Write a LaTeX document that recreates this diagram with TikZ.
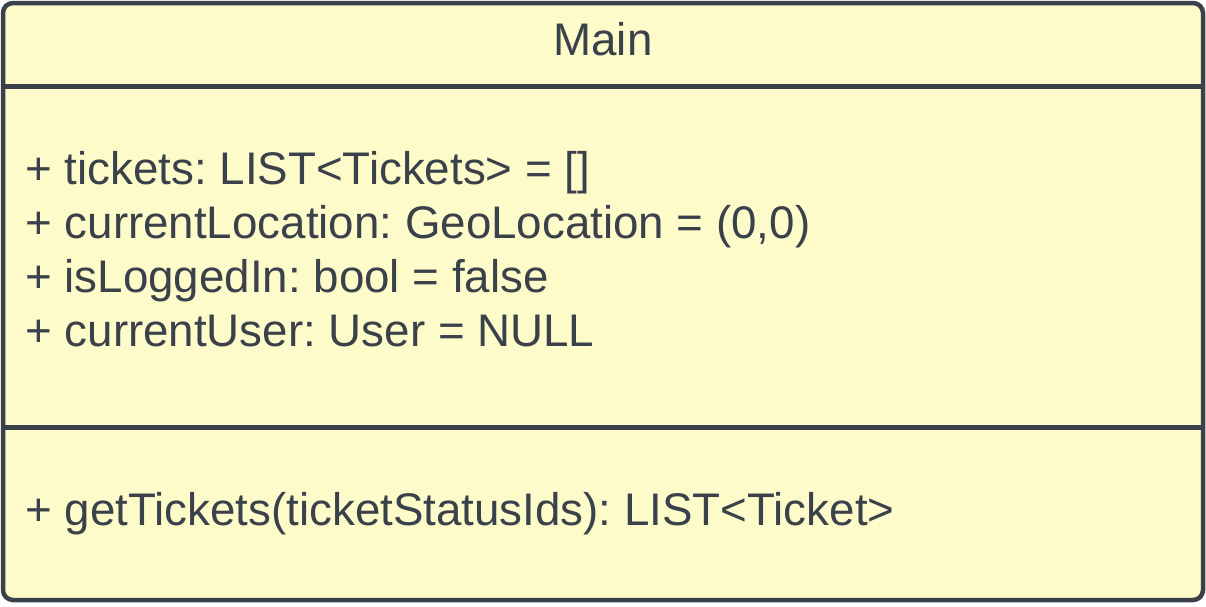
\documentclass[tikz,border=0pt]{standalone}
\usepackage{fontspec}
\setmainfont{Liberation Sans}
\usepackage{tikz}
\frenchspacing

\definecolor{umlline}{HTML}{3A414A}
\definecolor{umlfill}{HTML}{FCFBC9}

\tikzset{
  classbox/.style={draw=umlline, fill=umlfill, line width=2.25pt, rounded corners=5pt},
  member/.style={anchor=base west, inner sep=0pt, text=umlline, font=\fontsize{22.85}{27}\selectfont},
  title/.style={anchor=base, inner sep=0pt, text=umlline, font=\fontsize{22.85}{27}\selectfont}
}

\begin{document}
\begin{tikzpicture}[x=0.5pt, y=-0.5pt]
				\useasboundingbox (0, 0) rectangle (1206, 606);
				% Class box and compartments:
				\draw[classbox] (3, 3) rectangle (1203, 600);
				\coordinate (H1) at (3, 86.5);
				\coordinate (H2) at (1203, 86.5);
				\coordinate (M1) at (3, 427);
				\coordinate (M2) at (1203, 427);
				\draw[umlline, line width=2.5pt] (H1) -- (H2);
				\draw[umlline, line width=2.5pt] (M1) -- (M2);
				% Name, attributes and methods:
				\node[title](N1) at (603, 55){Main};
				\node[member](A1) at (25, 184){+ tickets: LIST<Tickets> = []};
				\node[member](A2) at (25, 238){+ currentLocation: GeoLocation = (0,0)};
				\node[member](A3) at (25, 292){+ isLoggedIn: bool = false};
				\node[member](A4) at (25, 346){+ currentUser: User = NULL};
				\node[member](O1) at (25, 525){+ getTickets(ticketStatusIds): LIST<Ticket>};
			\end{tikzpicture}
\end{document}
